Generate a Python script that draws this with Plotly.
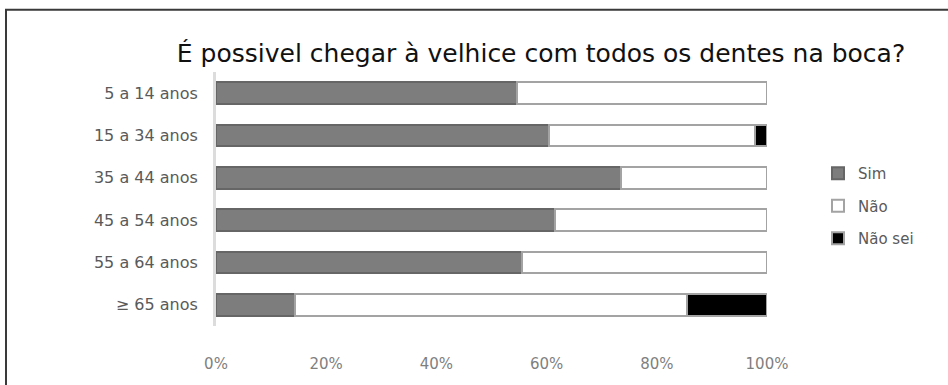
import plotly.graph_objects as go

# Age groups, top to bottom
categories = ["5 a 14 anos", "15 a 34 anos", "35 a 44 anos",
              "45 a 54 anos", "55 a 64 anos", "≥ 65 anos"]

# Percent of answers per group
sim = [54.6, 60.4, 73.5, 61.5, 55.5, 14.3]
nao = [45.4, 37.4, 26.5, 38.5, 44.5, 71.2]
nao_sei = [0.0, 2.2, 0.0, 0.0, 0.0, 14.5]

x_ticks = [0, 20, 40, 60, 80, 100]
x_tick_labels = ["0%", "20%", "40%", "60%", "80%", "100%"]

title_text = "É possivel chegar à velhice com todos os dentes na boca?"

W, H = 948, 385
ML, MR, MT, MB = 216, 181, 72, 56
plot_w = W - ML - MR
plot_h = H - MT - MB


def px_x(px):
    return (px - ML) / plot_w


def px_y(py):
    return (H - MB - py) / plot_h


FONT = "DejaVu Sans, sans-serif"

fig = go.Figure()
series = [
    ("Sim", sim, "#7d7d7d", "#666666"),
    ("Não", nao, "#ffffff", "#a3a3a3"),
    ("Não sei", nao_sei, "#000000", "#a3a3a3"),
]
for name, vals, fill, edge in series:
    fig.add_trace(go.Bar(
        y=categories, x=vals, name=name, orientation="h",
        legendgroup=name,
        marker=dict(color=fill, line=dict(color=edge, width=2)),
        hoverinfo="skip",
    ))

fig.update_layout(
    width=W, height=H,
    margin=dict(l=ML, r=MR, t=MT, b=MB),
    barmode="stack",
    bargap=0.49,
    plot_bgcolor="white",
    paper_bgcolor="white",
    title=dict(
        text=title_text,
        x=541 / W, xanchor="center", xref="container",
        y=1 - 53 / H, yanchor="middle", yref="container",
        font=dict(family=FONT, size=25, color="#111111"),
    ),
    showlegend=True,
    legend=dict(
        x=px_x(818), y=px_y(158), xanchor="left", yanchor="top",
        traceorder="grouped", tracegroupgap=10,
        font=dict(family=FONT, size=15, color="#5a5a5a"),
        itemwidth=30,
        bgcolor="rgba(0,0,0,0)",
    ),
    shapes=[
        dict(type="rect", xref="paper", yref="paper",
             x0=px_x(6), x1=px_x(1000), y0=px_y(420), y1=px_y(9),
             line=dict(color="#3a3a3a", width=2), fillcolor="rgba(0,0,0,0)",
             layer="below"),
    ],
)

fig.update_xaxes(
    range=[0, 100], tickmode="array", tickvals=x_ticks, ticktext=x_tick_labels,
    showgrid=False, zeroline=False, showline=False,
    ticks="", ticklabelstandoff=27,
    tickfont=dict(family=FONT, size=15, color="#7f7f7f"),
    fixedrange=True,
)
fig.update_yaxes(
    categoryorder="array", categoryarray=categories,
    autorange="reversed",
    showgrid=False, zeroline=False,
    showline=True, linecolor="#dcdcdc", linewidth=3,
    ticks="", ticklabelstandoff=12,
    tickfont=dict(family=FONT, size=16, color="#5a5a5a"),
    fixedrange=True,
)

fig.write_html("out.html")
